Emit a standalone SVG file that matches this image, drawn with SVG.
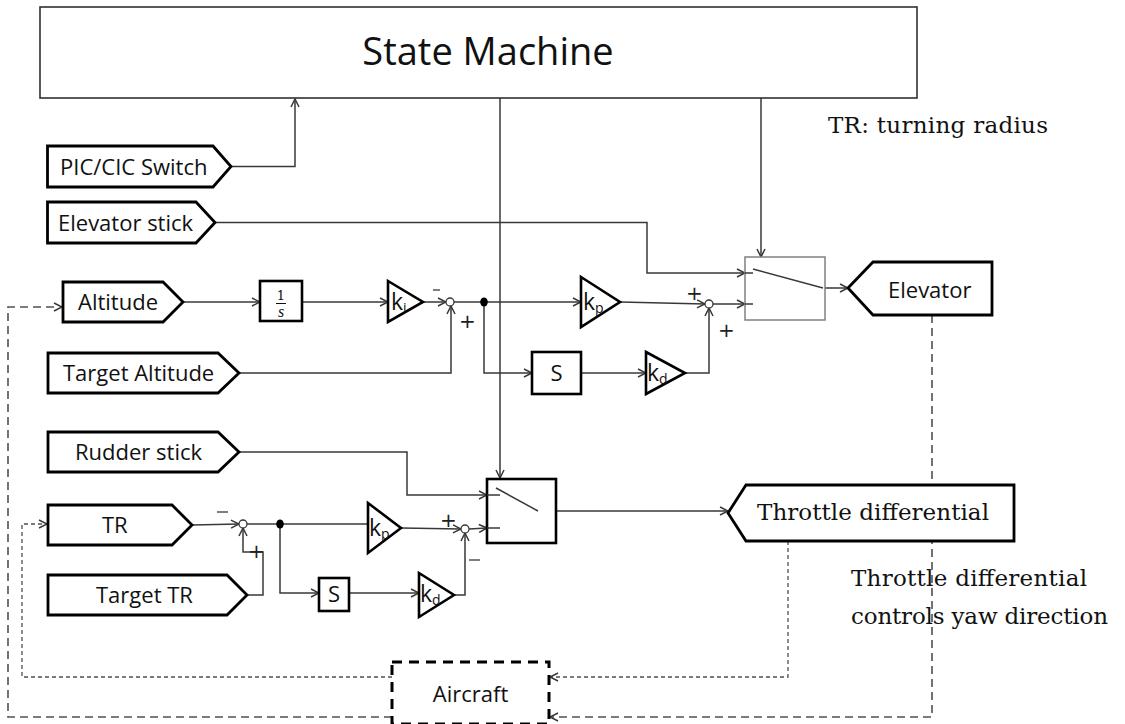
<svg xmlns="http://www.w3.org/2000/svg" width="1125" height="724" viewBox="0 0 1125 724">
<defs>
<marker id="arr" markerWidth="10" markerHeight="10" refX="9" refY="5" orient="auto" markerUnits="userSpaceOnUse">
<path d="M1,1 L9,5 L1,9" fill="none" stroke="#383838" stroke-width="1.5"/>
</marker>
<style>
.bg{fill:#fff}
.port{fill:#fff;stroke:#000;stroke-width:2.8;stroke-linejoin:miter}
.blk{fill:#fff;stroke:#000;stroke-width:2.6}
.gain{fill:#fff;stroke:#000;stroke-width:2.6;stroke-linejoin:miter}
.ln{fill:none;stroke:#383838;stroke-width:1.5}
.la{fill:none;stroke:#383838;stroke-width:1.5;marker-end:url(#arr)}
.dl{fill:none;stroke:#505050;stroke-width:1.6;stroke-dasharray:8 5}
.dd{fill:none;stroke:#505050;stroke-width:1.3;stroke-dasharray:4 3}
.ah{fill:none;stroke:#383838;stroke-width:1.4}
.sum{fill:#fff;stroke:#383838;stroke-width:1.3}
.lbl{font-family:"Open Sans","Liberation Sans",sans-serif;font-size:22px;fill:#111}
.ser{font-family:"DejaVu Serif","Liberation Serif",serif;font-size:23px;fill:#111}
.sg{font-family:"DejaVu Sans","Liberation Sans",sans-serif;font-size:20px;fill:#222}
.k{font-family:"Open Sans","Liberation Sans",sans-serif;font-size:23px;fill:#111}
.sub{font-size:14px}
</style>
</defs>
<rect class="bg" x="0" y="0" width="1125" height="724"/>

<g id="connectors">
<polyline class="la" points="231,166.5 295,166.5 295,99"/>
<polyline class="la" points="215,222.5 647,222.5 647,273 745,273"/>
<line class="la" x1="500" y1="98" x2="500" y2="478"/>
<line class="la" x1="761" y1="98" x2="761" y2="257"/>
<line class="la" x1="183" y1="302" x2="260" y2="302"/>
<line class="la" x1="302" y1="302" x2="388" y2="302"/>
<line class="la" x1="423" y1="302" x2="446" y2="302"/>
<polyline class="la" points="239,373 451,373 451,306"/>
<line class="la" x1="454" y1="302" x2="581" y2="302"/>
<polyline class="la" points="484,302 484,373 532,373"/>
<line class="la" x1="581" y1="373" x2="646" y2="373"/>
<line class="la" x1="620" y1="302" x2="705" y2="304"/>
<polyline class="la" points="685,373 709,373 709,308"/>
<line class="la" x1="713" y1="304" x2="745" y2="304"/>
<line class="la" x1="823" y1="288" x2="848" y2="288"/>
<polyline class="la" points="239,452 407,452 407,495 487,495"/>
<line class="la" x1="192" y1="525" x2="239" y2="524"/>
<line class="ln" x1="247" y1="524" x2="368" y2="524"/>
<polyline class="la" points="247,595 263,595 263,552 243,552 243,528"/>
<polyline class="la" points="280,524 280,593 319,593"/>
<line class="la" x1="349" y1="593" x2="419" y2="593"/>
<line class="la" x1="401" y1="528" x2="461" y2="529"/>
<polyline class="la" points="454,595 465,595 465,533"/>
<line class="la" x1="469" y1="529" x2="487" y2="528"/>
<line class="la" x1="538" y1="511" x2="728" y2="511"/>
<polyline class="dl" points="932,315 932,717 552,717"/>
<path class="ah" d="M558,713 L550,717 L558,721"/>
<polyline class="dd" points="788,541 788,677 552,677"/>
<path class="ah" d="M558,673 L550,677 L558,681"/>
<polyline class="dl" points="392,717 8,717 8,307 58,307"/>
<path class="ah" d="M54,303 L62,307 L54,311"/>
<polyline class="dd" points="392,677 22,677 22,524 44,524"/>
<path class="ah" d="M39,520 L47,524 L39,528"/>
</g>

<g id="state-machine">
<rect x="40" y="7" width="877" height="91" fill="#fff" stroke="#303030" stroke-width="1.6"/>
<text x="488" y="65" text-anchor="middle" style="font-family:'Open Sans','Liberation Sans',sans-serif;font-size:38px;fill:#111">State Machine</text>
</g>

<g id="note-tr">
<text class="ser" x="828" y="133" textLength="220">TR: turning radius</text>
</g>

<g id="pic-cic-switch">
<path class="port" d="M47.5,146 H213 L231,166.5 L213,187 H47.5 Z"/>
<text class="lbl" x="60" y="175" font-size="21">PIC/CIC Switch</text>
</g>

<g id="elevator-stick">
<path class="port" d="M47.5,202 H196 L215,222.5 L196,243 H47.5 Z"/>
<text class="lbl" x="58" y="230.5">Elevator stick</text>
</g>

<g id="altitude">
<path class="port" d="M63,282 H163 L183,302 L163,322 H63 Z"/>
<text class="lbl" x="78" y="310">Altitude</text>
</g>

<g id="target-altitude">
<path class="port" d="M48,353 H218 L239,373 L218,393 H48 Z"/>
<text class="lbl" x="63" y="381">Target Altitude</text>
</g>

<g id="integrator">
<rect class="blk" x="260" y="281" width="42" height="40"/>
<text x="281" y="300" text-anchor="middle" style="font-family:'DejaVu Serif',serif;font-size:13px;fill:#111">1</text>
<line x1="276" y1="303.5" x2="286" y2="303.5" stroke="#111" stroke-width="1"/>
<text x="281" y="317" text-anchor="middle" style="font-family:'Liberation Serif',serif;font-style:italic;font-size:16px;fill:#111">s</text>
</g>

<g id="gain-ki">
<path class="gain" d="M388,281 L423,302 L388,322 Z"/>
<text class="k" x="391" y="310">k<tspan class="sub" dy="3">i</tspan></text>
</g>

<g id="sum-alt">
<circle class="sum" cx="450" cy="302" r="4"/>
<line x1="433" y1="290" x2="440" y2="290" stroke="#383838" stroke-width="1.3"/>
<text class="sg" x="459" y="328">+</text>
</g>

<g id="junction-alt">
<ellipse cx="484" cy="302" rx="3.8" ry="4.5" fill="#000"/>
</g>

<g id="gain-kp1">
<path class="gain" d="M581,277 L620,302 L581,327 Z"/>
<text class="k" x="583" y="310">k<tspan class="sub" dy="3">p</tspan></text>
</g>

<g id="deriv-alt">
<rect class="blk" x="532" y="352" width="49" height="42"/>
<text class="lbl" x="556.5" y="381" text-anchor="middle">S</text>
</g>

<g id="gain-kd1">
<path class="gain" d="M646,352 L685,373 L646,394 Z"/>
<text class="k" x="647" y="381">k<tspan class="sub" dy="3">d</tspan></text>
</g>

<g id="sum-elev">
<circle class="sum" cx="709" cy="304" r="4"/>
<text class="sg" x="686" y="300">+</text>
<text class="sg" x="718" y="337">+</text>
</g>

<g id="switch-elevator">
<rect x="745" y="257" width="80" height="63" fill="#fff" stroke="#808080" stroke-width="1.5"/>
<line class="ln" x1="745" y1="273" x2="753" y2="273"/>
<line class="ln" x1="745" y1="304" x2="753" y2="304"/>
<line class="ln" x1="753" y1="269" x2="823" y2="288"/>
</g>

<g id="elevator">
<path class="port" d="M848,288 L873,262 H992 V315 H873 Z"/>
<text class="lbl" x="888" y="298">Elevator</text>
</g>

<g id="rudder-stick">
<path class="port" d="M48,432 H218 L239,452 L218,472 H48 Z"/>
<text class="lbl" x="75" y="460">Rudder stick</text>
</g>

<g id="tr">
<path class="port" d="M48,505 H172 L192,525 L172,545 H48 Z"/>
<text class="lbl" x="102" y="533">TR</text>
</g>

<g id="target-tr">
<path class="port" d="M48,575 H227 L247,595 L227,615 H48 Z"/>
<text class="lbl" x="96" y="603">Target TR</text>
</g>

<g id="sum-tr">
<circle class="sum" cx="243" cy="524" r="4"/>
<line x1="217" y1="512" x2="228" y2="512" stroke="#383838" stroke-width="1.3"/>
<text class="sg" x="248" y="558">+</text>
</g>

<g id="junction-tr">
<ellipse cx="280" cy="524" rx="3.8" ry="4.5" fill="#000"/>
</g>

<g id="gain-kp2">
<path class="gain" d="M368,503 L401,528 L368,553 Z"/>
<text class="k" x="369" y="536" font-size="21">k<tspan class="sub" dy="3">p</tspan></text>
</g>

<g id="deriv-tr">
<rect class="blk" x="319" y="578" width="30" height="33"/>
<text class="lbl" x="334" y="602" text-anchor="middle" font-size="19">S</text>
</g>

<g id="gain-kd2">
<path class="gain" d="M419,573 L454,595 L419,617 Z"/>
<text class="k" x="420" y="602" font-size="20">k<tspan class="sub" dy="3" font-size="12">d</tspan></text>
</g>

<g id="sum-tr2">
<circle class="sum" cx="465" cy="529" r="4"/>
<text class="sg" x="440" y="527">+</text>
<line x1="469" y1="560" x2="480" y2="560" stroke="#383838" stroke-width="1.3"/>
</g>

<g id="switch-throttle">
<rect x="487" y="479" width="69" height="64" fill="#fff" stroke="#000" stroke-width="2.6"/>
<line class="ln" x1="487" y1="495" x2="500" y2="495"/>
<line class="ln" x1="487" y1="528" x2="500" y2="528"/>
<line class="ln" x1="496" y1="488" x2="538" y2="511"/>
</g>

<g id="throttle-differential">
<path class="port" d="M728,513 L746,485 H1014 V541 H746 Z"/>
<text class="ser" x="757" y="520" textLength="232">Throttle differential</text>
</g>

<g id="note-throttle">
<text class="ser" x="851" y="586" textLength="236">Throttle differential</text>
<text class="ser" x="851" y="624" textLength="257">controls yaw direction</text>
</g>

<g id="aircraft">
<rect x="392" y="662" width="157" height="62" fill="none" stroke="#000" stroke-width="3" stroke-dasharray="10 7"/>
<text class="lbl" x="470.5" y="702" text-anchor="middle" font-size="23">Aircraft</text>
</g>
</svg>
